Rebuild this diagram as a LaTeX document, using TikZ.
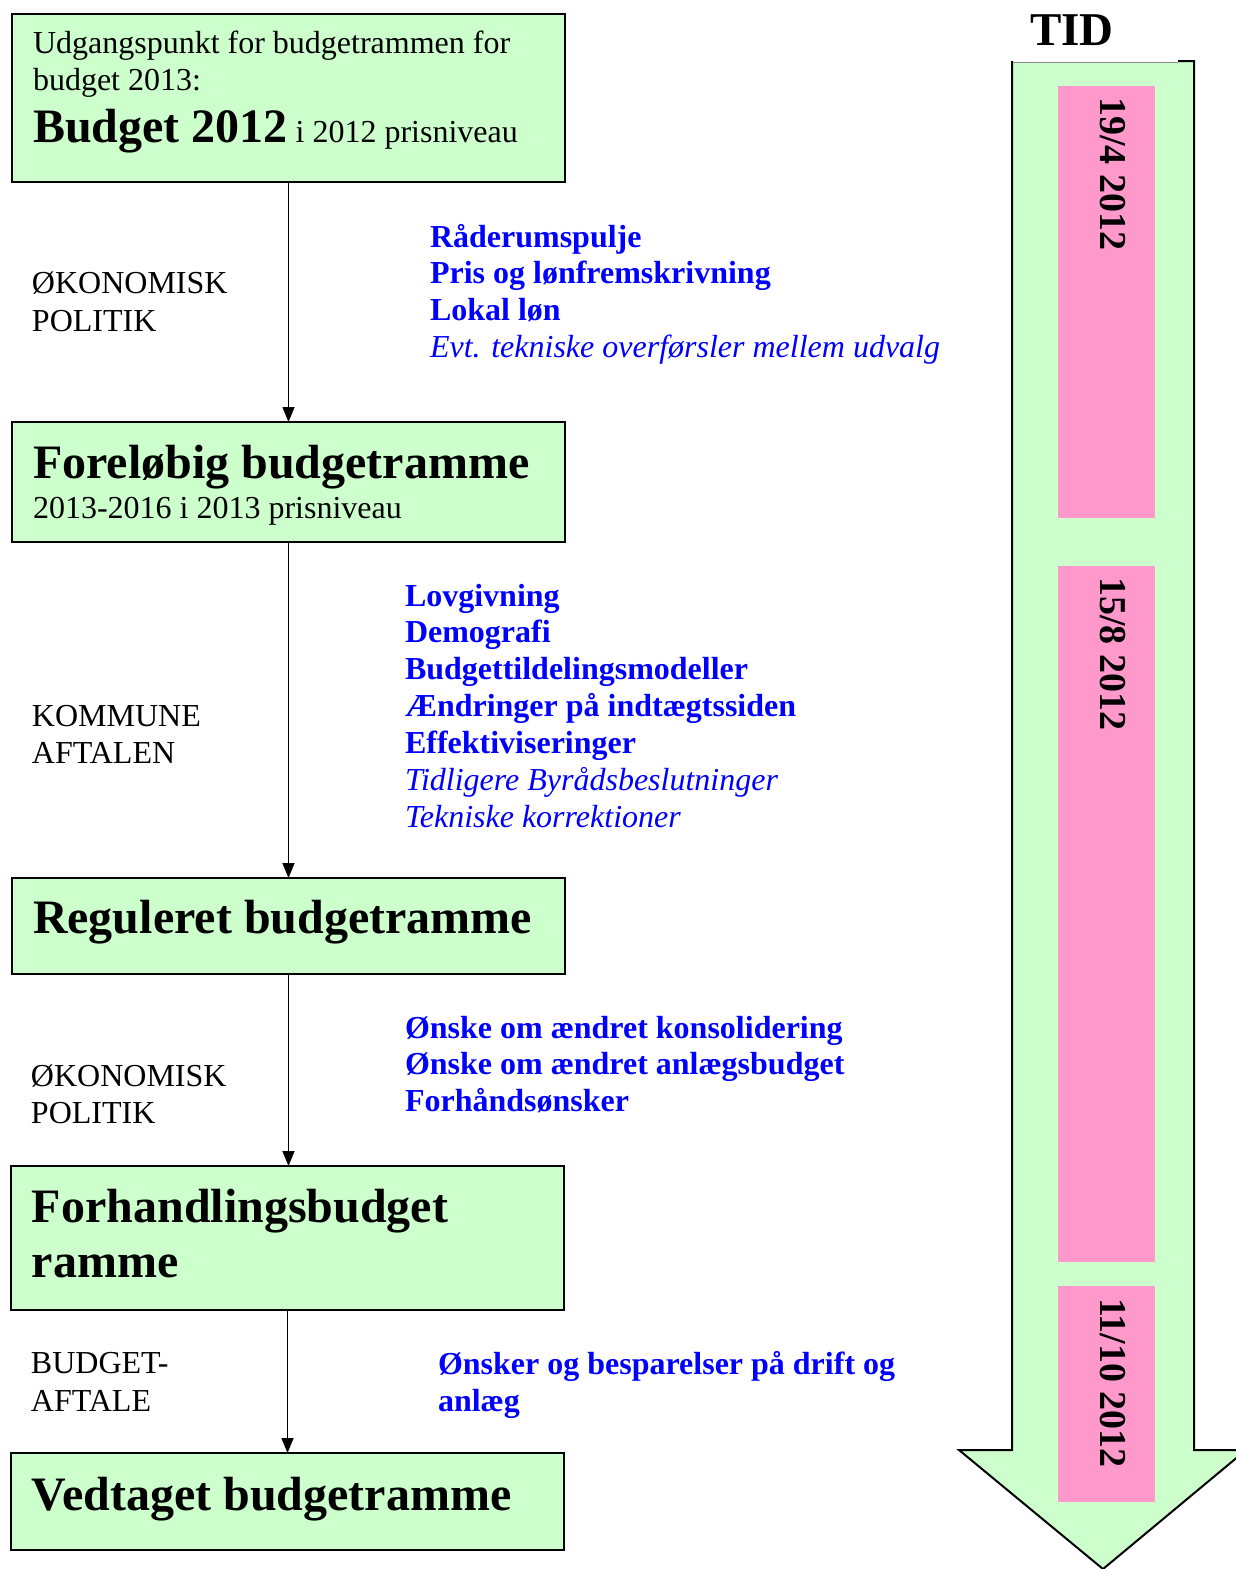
\documentclass[tikz,border=0pt]{standalone}
\usepackage{fontspec}
\setmainfont{Liberation Serif}
\usepackage{xcolor}
\usepackage{tikz}
\usetikzlibrary{arrows.meta}

\definecolor{boxgreen}{HTML}{CCFFCC}
\definecolor{datepink}{HTML}{FF99CC}
\definecolor{noteblue}{HTML}{0000FF}
\newcommand{\normtxt}{\fontsize{16}{18.4}\selectfont}
\newcommand{\bigtxt}{\fontsize{24}{27.5}\selectfont\bfseries}

\begin{document}
\begin{tikzpicture}[x=0.5pt,y=-0.5pt]
\tikzstyle{every node}+=[inner sep=0pt, outer sep=0pt]
\tikzstyle{ramme}=[draw=black, line width=1pt, fill=boxgreen, anchor=north west, minimum width=276.5pt]
\tikzstyle{txt}=[anchor=base west, font=\normtxt]
\tikzstyle{head}=[anchor=base west, font=\bigtxt]
\tikzstyle{note}=[anchor=base west, font=\normtxt\bfseries, text=noteblue]
\tikzstyle{notei}=[anchor=base west, font=\normtxt\itshape, text=noteblue]
\tikzstyle{pil}=[draw=black, line width=0.75pt, -{Triangle[length=7.5pt,width=6pt]}]
\tikzstyle{dato}=[anchor=base west, rotate=-90, font=\fontsize{19}{22}\selectfont\bfseries]
\useasboundingbox (0,0) rectangle (1236,1569);

% tidspil
\fill [boxgreen] (1012,62) -- (1194,62) -- (1194,1450) -- (1246,1450) -- (1103,1569) -- (959,1450) -- (1012,1450) -- cycle;
\draw [black!45, line width=0.5pt] (1012,62) -- (1178,62);
\draw [black, line width=1pt] (1178,61) -- (1194,61) -- (1194,1450) -- (1246,1450) -- (1103,1569) -- (959,1450) -- (1012,1450) -- (1012,61);
\fill [datepink] (1058,86) rectangle (1155,518);
\fill [datepink] (1058,566) rectangle (1155,1262);
\fill [datepink] (1058,1286) rectangle (1155,1502);
\node [dato] (d1) at (1100,97) {19/4 2012};
\node [dato] (d2) at (1100,577) {15/8 2012};
\node [dato] (d3) at (1100,1298) {11/10 2012};
\node [anchor=base west, font=\fontsize{23.5}{26}\selectfont\bfseries] (tid) at (1030,45) {TID};

% rammer
\node [ramme, minimum height=84pt] (b1) at (12,14) {};
\node [ramme, minimum height=60pt] (b2) at (12,422) {};
\node [ramme, minimum height=48pt] (b3) at (12,878) {};
\node [ramme, minimum height=72pt] (b4) at (11,1166) {};
\node [ramme, minimum height=48.5pt] (b5) at (11,1453) {};
\draw [pil] (b1.south) -- (b2.north);
\draw [pil] (b2.south) -- (b3.north);
\draw [pil] (b3.south) -- (b3.south |- b4.north);
\draw [pil] (b4.south) -- (b5.north);

\node [txt] (b1a) at (33,53) {Udgangspunkt for budgetrammen for};
\node [txt] (b1b) at (33,90) {budget 2013:};
\node [txt] (b1c) at (33,142) {{\bigtxt Budget 2012} i 2012 prisniveau};
\node [head] (b2a) at (33,478) {Foreløbig budgetramme};
\node [txt] (b2b) at (33,518) {2013-2016 i 2013 prisniveau};
\node [head] (b3a) at (33,933) {Reguleret budgetramme};
\node [head] (b4a) at (32,1222) {Forhandlingsbudget};
\node [head] (b4b) at (32,1277) {ramme};
\node [head] (b5a) at (32,1510) {Vedtaget budgetramme};

% venstre tekster
\node [txt] (l1a) at (32,293) {ØKONOMISK};
\node [txt] (l1b) at (32,331) {POLITIK};
\node [txt] (l2a) at (32,726) {KOMMUNE};
\node [txt] (l2b) at (32,763) {AFTALEN};
\node [txt] (l3a) at (31,1086) {ØKONOMISK};
\node [txt] (l3b) at (31,1123) {POLITIK};
\node [txt] (l4a) at (31,1373) {BUDGET-};
\node [txt] (l4b) at (31,1411) {AFTALE};

% blaa tekster
\foreach \t [count=\i from 0] in {Råderumspulje, Pris og lønfremskrivning, Lokal løn}
  \node [note] (ga\i) at (430,{247+36.8*\i}) {\t};
\node [notei] (ga3) at (430,357) {Evt. tekniske overførsler mellem udvalg};
\foreach \t [count=\i from 0] in {Lovgivning, Demografi, Budgettildelingsmodeller, Ændringer på indtægtssiden, Effektiviseringer}
  \node [note] (gb\i) at (405,{606+36.8*\i}) {\t};
\node [notei] (gb5) at (405,790) {Tidligere Byrådsbeslutninger};
\node [notei] (gb6) at (405,827) {Tekniske korrektioner};
\foreach \t [count=\i from 0] in {Ønske om ændret konsolidering, Ønske om ændret anlægsbudget, Forhåndsønsker}
  \node [note] (gc\i) at (405,{1038+36.8*\i}) {\t};
\node [note] (gd0) at (438,1374) {Ønsker og besparelser på drift og};
\node [note] (gd1) at (438,1411) {anlæg};
\end{tikzpicture}
\end{document}
